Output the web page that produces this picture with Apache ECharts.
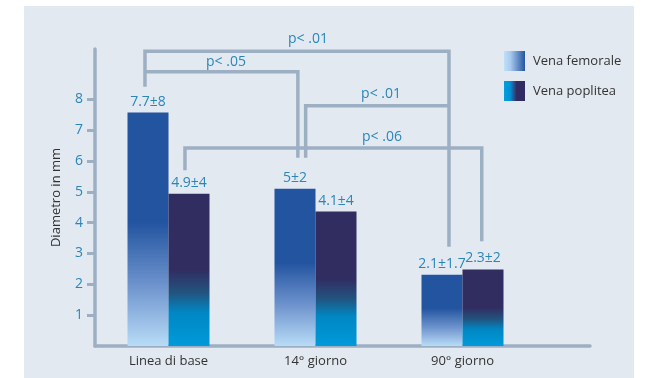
<!DOCTYPE html>
<html>
<head>
<meta charset="utf-8">
<script src="https://cdn.jsdelivr.net/npm/echarts@6/dist/echarts.min.js"></script>
<style>
html,body{margin:0;padding:0;background:#fff;}
#c{width:648px;height:378px;}
</style>
</head>
<body>
<div id="c"></div>
<script>
// ---- data ----
const categories = ['Linea di base', '14° giorno', '90° giorno'];
const seriesNames = ['Vena femorale', 'Vena poplitea'];
const femorale = [7.57, 5.10, 2.31];
const poplitea = [4.94, 4.36, 2.48];
const femoraleLabels = ['7.7±8', '5±2', '2.1±1.7'];
const popliteaLabels = ['4.9±4', '4.1±4', '2.3±2'];
const yTicks = [1, 2, 3, 4, 5, 6, 7, 8];
const yMax = 9.63;
// significance brackets, in axis units (x: category index offset, y: value)
const bracketLabels = ['p< .01', 'p< .05', 'p< .01', 'p< .06'];
const bracketPaths = [
  [[-0.16, 8.41], [-0.16, 9.56], [1.908, 9.56], [1.908, 3.22]],
  [[-0.16, 8.89], [0.88, 8.89], [0.88, 6.10]],
  [[0.933, 6.10], [0.933, 7.79], [1.908, 7.79]],
  [[0.112, 5.70], [0.112, 6.42], [2.131, 6.42], [2.131, 3.40]]
];
const bracketLabelAt = [[0.949, 9.94], [0.391, 9.22], [1.446, 8.16], [1.452, 6.77]];

// ---- styles ----
const FONT = 'Open Sans';
const AX = '#9db0c3';
const BLUE_TXT = '#2b86b8';
const femGrad = new echarts.graphic.LinearGradient(0, 0, 0, 1, [
  {offset: 0, color: '#2354a0'}, {offset: 0.47, color: '#2354a0'},
  {offset: 0.75, color: '#7196cf'}, {offset: 1, color: '#b8dcf6'}]);
const popGrad = new echarts.graphic.LinearGradient(0, 0, 0, 1, [
  {offset: 0, color: '#312d61'}, {offset: 0.5, color: '#312d61'},
  {offset: 0.65, color: '#22547f'}, {offset: 0.78, color: '#0087c4'}, {offset: 1, color: '#009ad9'}]);
const femLeg = new echarts.graphic.LinearGradient(0, 0, 1, 0, [
  {offset: 0, color: '#bfe0f7'}, {offset: 0.3, color: '#a9cbef'}, {offset: 1, color: '#2555a0'}]);
const popLeg = new echarts.graphic.LinearGradient(0, 0, 1, 0, [
  {offset: 0, color: '#00a0e0'}, {offset: 0.3, color: '#0090d0'}, {offset: 0.5, color: '#2a4a88'}, {offset: 0.6, color: '#302c62'}, {offset: 1, color: '#302c62'}]);

const chart = echarts.init(document.getElementById('c'), null, {renderer: 'canvas'});

function lbl(arr) {
  return {show: true, position: 'top', distance: 4, color: BLUE_TXT, fontSize: 14, fontFamily: FONT,
    formatter: p => arr[p.dataIndex]};
}

chart.setOption({
  animation: false,
  backgroundColor: '#fff',
  textStyle: {fontFamily: FONT},
  legend: {
    orient: 'vertical', left: 499, top: 46, itemWidth: 21, itemHeight: 20, itemGap: 10,
    textStyle: {color: '#333', fontSize: 13, fontFamily: FONT, padding: [0, 0, 0, 3]},
    data: [
      {name: seriesNames[0], icon: 'rect', itemStyle: {color: femLeg}},
      {name: seriesNames[1], icon: 'rect', itemStyle: {color: popLeg}}
    ]
  },
  grid: [
    {left: 95, top: 49, width: 441, bottom: 32},
    {left: 95, top: 49, right: 58, bottom: 32}
  ],
  xAxis: [
    {type: 'category', gridIndex: 0, data: categories,
      axisLine: {show: false}, axisTick: {show: false},
      axisLabel: {color: '#333', fontSize: 13, fontFamily: FONT, margin: 9}},
    {type: 'value', gridIndex: 1, min: 0, max: 1,
      axisLine: {show: true, lineStyle: {color: AX, width: 3.5}},
      axisTick: {show: false}, axisLabel: {show: false}, splitLine: {show: false}}
  ],
  yAxis: [
    {type: 'value', gridIndex: 0, min: 0, max: yMax, interval: 1,
      name: 'Diametro in mm', nameLocation: 'middle', nameGap: 32,
      nameTextStyle: {color: '#333', fontSize: 13, fontFamily: FONT},
      axisLine: {show: true, lineStyle: {color: AX, width: 3.5}},
      axisTick: {show: true, length: 8, lineStyle: {color: AX, width: 3}, customValues: yTicks},
      axisLabel: {color: BLUE_TXT, fontSize: 14, fontFamily: FONT, margin: 12, customValues: yTicks},
      splitLine: {show: false}},
    {type: 'value', gridIndex: 1, show: false, min: 0, max: 1}
  ],
  series: [
    {name: seriesNames[0], type: 'bar', xAxisIndex: 0, yAxisIndex: 0, data: femorale,
      barWidth: 41, barGap: '0%', itemStyle: {color: femGrad}, label: lbl(femoraleLabels), z: 1},
    {name: seriesNames[1], type: 'bar', xAxisIndex: 0, yAxisIndex: 0, data: poplitea,
      barWidth: 41, barGap: '0%', itemStyle: {color: popGrad}, label: lbl(popliteaLabels), z: 1}
  ]
});

// panel + brackets via library scales
const c0 = chart.convertToPixel({xAxisIndex: 0}, categories[0]);
const c1 = chart.convertToPixel({xAxisIndex: 0}, categories[1]);
const band = c1 - c0;
const px = u => c0 + u * band;
const py = v => chart.convertToPixel({yAxisIndex: 0}, v);

const g = [{type: 'rect', id: 'panel', z: -100, silent: true, left: 24, top: 6,
  shape: {width: 610, height: 372}, style: {fill: '#e2e9f1'}}];
bracketPaths.forEach((path, i) => {
  g.push({type: 'polyline', z: 5, shape: {points: path.map(p => [px(p[0]), py(p[1])])},
    style: {stroke: AX, lineWidth: 3.5, fill: null, lineJoin: 'miter'}});
  g.push({type: 'text', z: 6, x: px(bracketLabelAt[i][0]), y: py(bracketLabelAt[i][1]),
    style: {text: bracketLabels[i], fill: BLUE_TXT, font: '14px "' + FONT + '"', align: 'center', verticalAlign: 'middle'}});
});
chart.setOption({graphic: g});
</script>
</body>
</html>
